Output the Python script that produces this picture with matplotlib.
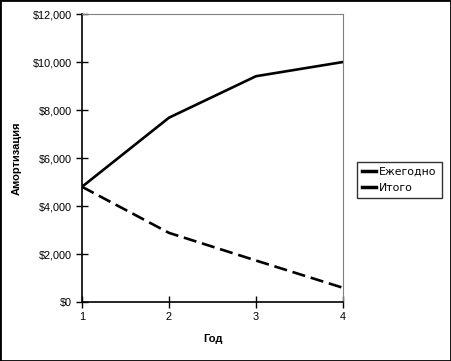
import matplotlib.pyplot as plt
from matplotlib.lines import Line2D
from matplotlib.patches import Rectangle
from matplotlib.ticker import FuncFormatter

years = [1, 2, 3, 4]
annual = [4800, 2880, 1728, 592]
total = [4800, 7680, 9408, 10000]
legend_labels = ['Ежегодно', 'Итого']

plt.rcParams['font.family'] = ['Liberation Sans', 'DejaVu Sans']

fig = plt.figure(figsize=(4.51, 3.61), dpi=100)
ax = fig.add_axes([82/451, 1-302/361, 261/451, 288/361])

ax.plot(years, total, color='black', linewidth=1.9)
ax.plot(years, annual, color='black', linewidth=1.9, linestyle=(0, (5, 2.2)))

ax.set_xlim(1, 4)
ax.set_ylim(0, 12000)
ax.set_xticks(years)
ax.set_yticks(range(0, 12001, 2000))
ax.yaxis.set_major_formatter(FuncFormatter(lambda v, p: '${:,.0f}'.format(v)))
ax.tick_params(direction='inout', length=9, width=1, labelsize=7.8, pad=3)
for s in ['top', 'right']:
    ax.spines[s].set_color('#808080')
for s in ['left', 'bottom']:
    ax.spines[s].set_linewidth(1.2)

ax.set_xlabel('Год', fontsize=8, fontweight='bold', labelpad=8)
ax.set_ylabel('Амортизация', fontsize=8, fontweight='bold', labelpad=8)

handles = [Line2D([], [], color='black', linewidth=2.5) for _ in legend_labels]
leg = fig.legend(handles, legend_labels, loc='center left', bbox_to_anchor=(357/451, 1-180/361),
                 prop={'family': 'DejaVu Sans', 'size': 7.8}, frameon=True, fancybox=False,
                 handlelength=1.3, handletextpad=0.3,
                 borderpad=0.45, labelspacing=0.6, borderaxespad=0)
leg.get_frame().set_edgecolor('black')
leg.get_frame().set_linewidth(1)

fig.patches.append(Rectangle((0, 0), 1, 1, transform=fig.transFigure, fill=False,
                             edgecolor='black', linewidth=2))

fig.savefig('out.png', dpi=100)
